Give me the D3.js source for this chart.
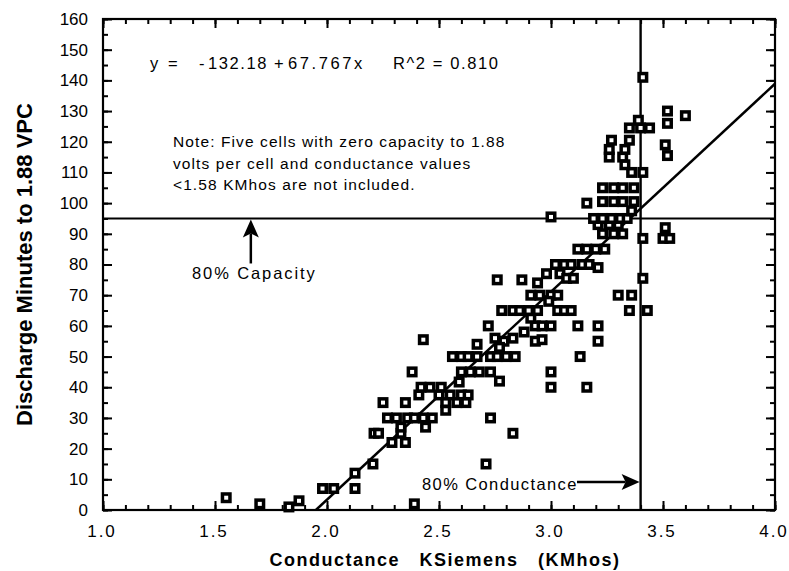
<!DOCTYPE html>
<html>
<head>
<meta charset="utf-8">
<script src="https://cdn.jsdelivr.net/npm/d3@7"></script>
<style>
  body { margin: 0; background: #fff; }
  svg { display: block; font-family: "Liberation Sans", Arial, Helvetica, sans-serif; }
  text { white-space: pre; fill: #000; }
</style>
</head>
<body>
<svg id="chart" width="789" height="571"></svg>
<script>
// Conductance (KMhos) of each cell and its discharge time (minutes to 1.88 VPC)
const conductance = [
  1.55, 1.70, 1.83, 1.875, 1.98, 2.03, 2.125, 2.125, 2.205, 2.21,
  2.23, 2.25, 2.27, 2.31, 2.36, 2.39, 2.43, 2.47, 2.29, 2.35,
  2.33, 2.33, 2.44, 2.35, 2.41, 2.42, 2.46, 2.51, 2.50, 2.55,
  2.60, 2.63, 2.53, 2.58, 2.62, 2.53, 2.59, 2.38, 2.60, 2.64,
  2.68, 2.73, 2.77, 2.56, 2.60, 2.63, 2.67, 2.73, 2.76, 2.80,
  2.84, 2.67, 2.43, 2.75, 2.79, 2.83, 2.77, 2.72, 2.88, 2.93,
  2.96, 3.00, 2.93, 2.96, 2.91, 2.78, 2.83, 2.86, 2.90, 2.94,
  3.03, 3.06, 3.09, 2.91, 2.95, 3.00, 3.03, 2.99, 2.76, 2.87,
  2.94, 2.98, 3.04, 3.07, 3.10, 3.02, 3.06, 3.09, 3.14, 3.17,
  3.21, 3.12, 3.16, 3.20, 3.24, 3.23, 3.28, 3.32, 3.21, 3.26,
  3.30, 3.19, 3.23, 3.27, 3.31, 3.34, 3.00, 3.36, 3.16, 3.23,
  3.28, 3.32, 3.37, 3.23, 3.28, 3.32, 3.37, 3.36, 3.41, 3.33,
  3.26, 3.32, 3.26, 3.33, 3.27, 3.35, 3.35, 3.40, 3.44, 3.39,
  3.41, 3.52, 3.60, 3.52, 3.51, 3.52, 3.51, 3.50, 3.53, 3.41,
  3.41, 3.30, 3.36, 3.35, 3.43, 3.12, 3.21, 3.21, 3.13, 3.00,
  3.00, 3.16, 2.73, 2.83, 2.71, 2.39
];
const minutes = [
  4, 2, 1, 3, 7, 7, 12, 7, 15, 25,
  25, 35, 30, 30, 30, 30, 30, 30, 22, 22,
  25, 27, 27, 35, 37.5, 40, 40, 40, 37.5, 37.5,
  37.5, 37.5, 35, 35, 35, 32.5, 41.7, 45, 45, 45,
  45, 45, 42, 50, 50, 50, 50, 50, 50, 50,
  50, 54, 55.5, 56, 55, 56, 53, 60, 58, 60,
  60, 60, 55, 55.5, 62.5, 65, 65, 65, 65, 65,
  65, 65, 65, 70, 70, 70, 70, 68, 75, 75,
  74, 77, 77, 75.5, 75.5, 80, 80, 80, 80, 80,
  79, 85, 85, 85, 85, 90, 90, 90, 93, 93,
  93, 95, 95, 95, 95, 95, 95.5, 97.5, 100, 100.5,
  100.5, 100.5, 100.5, 105, 105, 105, 105, 110, 110, 112.5,
  115, 115, 117.5, 117.5, 120.5, 120.5, 124.5, 124.5, 124.5, 127,
  141, 130, 128.5, 126, 119, 115.5, 92, 88.5, 88.5, 88.5,
  75.5, 70, 70, 65, 65, 60, 60, 55, 50, 45,
  40, 40, 30, 25, 15, 2
];

// Axis tick values
const xTicks = [1.0, 1.5, 2.0, 2.5, 3.0, 3.5, 4.0];
const yTicks = [0, 10, 20, 30, 40, 50, 60, 70, 80, 90, 100, 110, 120, 130, 140, 150, 160];
const xMinorTicks = d3.range(10, 41).map(d => d / 10);
const yMinorTicks = d3.range(0, 161, 5);

// Least-squares fit and the two 80% reference levels
const fitIntercept = -132.18;
const fitSlope = 67.767;
const fitR2 = 0.810;
const capacityMinutes = 95;
const conductanceLimit = 3.4;

const noteLines = [
  "Note: Five cells with zero capacity to 1.88",
  "volts per cell and conductance values",
  "<1.58 KMhos are not included."
];

const svg = d3.select("#chart");
const x = d3.scaleLinear().domain([1, 4]).range([103, 775]);
const y = d3.scaleLinear().domain([0, 160]).range([510, 19]);

svg.append("rect").attr("width", 789).attr("height", 571).attr("fill", "#fff");

function styleAxis(g) {
  g.select(".domain").remove();
  g.selectAll(".tick line").attr("stroke", "#000").attr("stroke-width", 2);
  g.selectAll("text").attr("fill", "#000").attr("font-size", 17)
    .attr("font-family", "'Liberation Sans', Arial, sans-serif");
}

// bottom axis: minor + major ticks pointing into the plot
svg.append("g").attr("transform", `translate(0,${y(0)})`)
  .call(d3.axisBottom(x).tickValues(xMinorTicks).tickSize(-5).tickFormat(""))
  .call(styleAxis);
svg.append("g").attr("transform", `translate(0,${y(0)})`)
  .call(d3.axisBottom(x).tickValues(xTicks).tickSize(-9).tickPadding(15).tickFormat(d3.format(".1f")))
  .call(styleAxis)
  .call(g => g.selectAll("text").attr("letter-spacing", 2).attr("dx", -1.5));
// top axis
svg.append("g").attr("transform", `translate(0,${y(160)})`)
  .call(d3.axisTop(x).tickValues(xMinorTicks).tickSize(-5).tickFormat(""))
  .call(styleAxis);
svg.append("g").attr("transform", `translate(0,${y(160)})`)
  .call(d3.axisTop(x).tickValues(xTicks).tickSize(-9).tickFormat(""))
  .call(styleAxis);
// left axis
svg.append("g").attr("transform", `translate(${x(1)},0)`)
  .call(d3.axisLeft(y).tickValues(yMinorTicks).tickSize(-5).tickFormat(""))
  .call(styleAxis);
svg.append("g").attr("transform", `translate(${x(1)},0)`)
  .call(d3.axisLeft(y).tickValues(yTicks).tickSize(-9).tickPadding(15).tickFormat(d3.format("d")))
  .call(styleAxis);
// right axis
svg.append("g").attr("transform", `translate(${x(4)},0)`)
  .call(d3.axisRight(y).tickValues(yMinorTicks).tickSize(-5).tickFormat(""))
  .call(styleAxis);
svg.append("g").attr("transform", `translate(${x(4)},0)`)
  .call(d3.axisRight(y).tickValues(yTicks).tickSize(-9).tickFormat(""))
  .call(styleAxis);

// plot frame
svg.append("rect")
  .attr("x", x(1)).attr("y", y(160))
  .attr("width", x(4) - x(1)).attr("height", y(0) - y(160))
  .attr("fill", "none").attr("stroke", "#000").attr("stroke-width", 2.2);

// 80% capacity and 80% conductance reference lines
svg.append("line")
  .attr("x1", x(1)).attr("x2", x(4)).attr("y1", y(capacityMinutes)).attr("y2", y(capacityMinutes))
  .attr("stroke", "#000").attr("stroke-width", 2);
svg.append("line")
  .attr("x1", x(conductanceLimit)).attr("x2", x(conductanceLimit)).attr("y1", y(160)).attr("y2", y(0))
  .attr("stroke", "#000").attr("stroke-width", 2.4);

// regression line, from its x-intercept to the right edge
const fitStart = -fitIntercept / fitSlope;
svg.append("line")
  .attr("x1", x(fitStart)).attr("y1", y(0))
  .attr("x2", x(4)).attr("y2", y(fitIntercept + fitSlope * 4))
  .attr("stroke", "#000").attr("stroke-width", 2.5);

// data points: square markers
const side = 7.5;
svg.append("g").selectAll("rect")
  .data(conductance.map((c, i) => [c, minutes[i]]))
  .join("rect")
  .attr("x", d => x(d[0]) - side / 2)
  .attr("y", d => y(d[1]) - side / 2)
  .attr("width", side).attr("height", side)
  .attr("fill", "#fff").attr("stroke", "#000").attr("stroke-width", 3.5);

// equation and R^2
const eqParts = [
  { x: 150, t: "y", s: 1.6 },
  { x: 168, t: "=", s: 1.6 },
  { x: 199, t: "-", s: 1.6 },
  { x: 208, t: d3.format(".2f")(-fitIntercept), s: 1.6 },
  { x: 274, t: "+", s: 1.6 },
  { x: 288, t: d3.format(".3f")(fitSlope) + "x", s: 2.6 }
];
svg.append("g").selectAll("text").data(eqParts).join("text")
  .attr("x", d => d.x).attr("y", 69).attr("font-size", 16.5).attr("letter-spacing", d => d.s)
  .text(d => d.t);
svg.append("text").attr("x", 393).attr("y", 69).attr("font-size", 16.5).attr("letter-spacing", 1.6)
  .text(`R^2 = ${d3.format(".3f")(fitR2)}`);

// note
svg.append("g").selectAll("text").data(noteLines).join("text")
  .attr("x", 173).attr("y", (d, i) => 147 + i * 21.5)
  .attr("font-size", 15.5).attr("letter-spacing", 1.1)
  .text(d => d);

// 80% capacity annotation with upward arrow
const capX = x(1.66);
const capTip = y(capacityMinutes) + 1;
svg.append("line").attr("x1", capX).attr("x2", capX).attr("y1", capTip + 14).attr("y2", capTip + 44)
  .attr("stroke", "#000").attr("stroke-width", 2.5);
svg.append("path")
  .attr("d", `M${capX},${capTip} L${capX - 8},${capTip + 18} L${capX},${capTip + 14} L${capX + 8},${capTip + 18} Z`)
  .attr("fill", "#000");
svg.append("text").attr("x", 192).attr("y", 279).attr("font-size", 16.5).attr("letter-spacing", 1.9)
  .text("80% Capacity");

// 80% conductance annotation with arrow pointing at the vertical line
const condY = 482;
const condTip = x(conductanceLimit) - 1;
svg.append("line").attr("x1", 577).attr("x2", condTip - 14).attr("y1", condY).attr("y2", condY)
  .attr("stroke", "#000").attr("stroke-width", 2.5);
svg.append("path")
  .attr("d", `M${condTip},${condY} L${condTip - 18},${condY - 8} L${condTip - 14},${condY} L${condTip - 18},${condY + 8} Z`)
  .attr("fill", "#000");
svg.append("text").attr("x", 422).attr("y", 490).attr("font-size", 16.5).attr("letter-spacing", 1.4)
  .text("80% Conductance");

// axis titles
svg.append("text")
  .attr("transform", `translate(32,${(y(0) + y(160)) / 2}) rotate(-90)`)
  .attr("text-anchor", "middle").attr("font-size", 22).attr("font-weight", "bold")
  .text("Discharge Minutes to 1.88 VPC");
svg.append("text")
  .attr("x", 445).attr("y", 566).attr("text-anchor", "middle")
  .attr("font-size", 18).attr("font-weight", "bold").attr("letter-spacing", 1.5)
  .text("Conductance   KSiemens   (KMhos)");
</script>
</body>
</html>
